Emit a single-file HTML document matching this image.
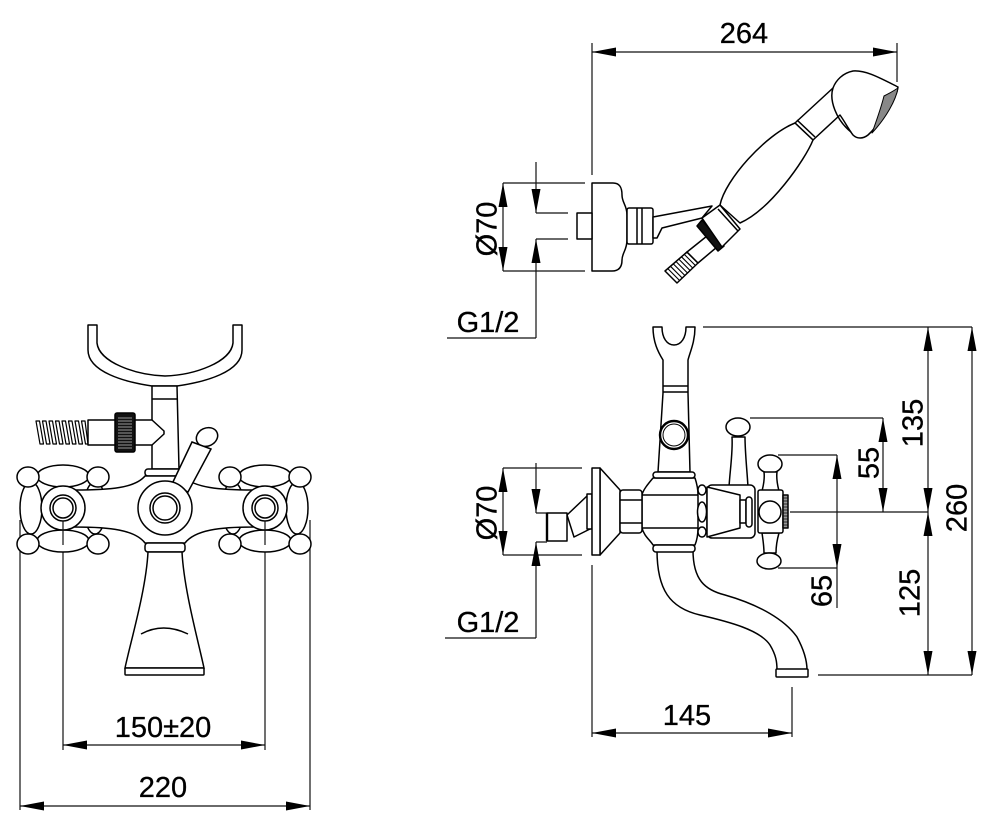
<!DOCTYPE html>
<html><head><meta charset="utf-8"><style>
html,body{margin:0;padding:0;background:#fff;}
svg{display:block;}
text{font-family:"Liberation Sans",Arial,sans-serif;font-size:29px;fill:#000;stroke:#000;stroke-width:0.3;}
</style></head><body>
<svg width="1000" height="826" viewBox="0 0 1000 826" xmlns="http://www.w3.org/2000/svg">
<rect width="1000" height="826" fill="#fff"/>
<!-- dimension lines -->
<g fill="none" stroke="#111" stroke-width="1.2">
<path d="M592,52 H897 M592,43 V175 M897,43 V82"/>
<path d="M503,183 V271 M503,183 H585 M503,271 H585"/>
<path d="M536,162 V213 M536,239 V338 M536,213 H568 M536,239 H568 M447,338 H536"/>
<path d="M503,468 V555 M503,468 H582 M503,555 H582"/>
<path d="M536,463 V513 M536,542 V638 M536,513 H547 M536,542 H547 M445,638 H536"/>
<path d="M703,327 H972 M750,418 H883 M778,455 H837 M790,512 H928 M778,568 H837 M818,675 H972"/>
<path d="M928,327 V675 M972,327 V675 M883,418 V512 M837,455 V608"/>
<path d="M592,565 V737 M792,687 V737 M592,733 H792"/>
<path d="M20,520 V810 M310,520 V810 M20,806 H310"/>
<path d="M63,521 V750 M265,521 V750 M63,745 H265"/>
</g>
<!-- arrows -->
<g fill="#000" stroke="none">
<polygon points="592,52 616,47.5 616,56.5"/><polygon points="897,52 873,47.5 873,56.5"/>
<polygon points="63,745 87,740.5 87,749.5"/><polygon points="265,745 241,740.5 241,749.5"/>
<polygon points="20,806 44,801.5 44,810.5"/><polygon points="310,806 286,801.5 286,810.5"/>
<polygon points="592,733 616,728.5 616,737.5"/><polygon points="792,733 768,728.5 768,737.5"/>
<polygon points="503,183 498.5,207 507.5,207"/><polygon points="503,271 498.5,247 507.5,247"/>
<polygon points="536,213 531.5,189 540.5,189"/><polygon points="536,239 531.5,263 540.5,263"/>
<polygon points="503,468 498.5,492 507.5,492"/><polygon points="503,555 498.5,531 507.5,531"/>
<polygon points="536,513 531.5,489 540.5,489"/><polygon points="536,542 531.5,566 540.5,566"/>
<polygon points="928,327 923.5,351 932.5,351"/><polygon points="928,512 923.5,488 932.5,488"/>
<polygon points="928,512 923.5,536 932.5,536"/><polygon points="928,675 923.5,651 932.5,651"/>
<polygon points="972,327 967.5,351 976.5,351"/><polygon points="972,675 967.5,651 976.5,651"/>
<polygon points="883,418 878.5,442 887.5,442"/><polygon points="883,512 878.5,488 887.5,488"/>
<polygon points="837,455 832.5,479 841.5,479"/><polygon points="837,568 832.5,544 841.5,544"/>
</g>

<!-- ===== LEFT FRONT VIEW ===== -->
<g fill="#fff" stroke="#000" stroke-width="1.5" stroke-linejoin="round">
<path d="M88,325 H97 V343 C99,362 135,375 165,376 C195,375 231,362 233,343 V325 H242 V350 C242,372 205,382 177,386 L152,386 C125,382 88,372 88,350 Z"/>
<path d="M152,386 L177,386 L179,469 L152,469 Z"/>
<path d="M152,399 H177" fill="none"/>
<!-- hose -->
<g fill="none" stroke-width="1.2">
<path d="M36,421 L40,444 L43.5,444 L39.5,421 Z M42.5,421 L46.5,444 L50,444 L46,421 Z M49,421 L53,444 L56.5,444 L52.5,421 Z M55.5,421 L59.5,444 L63,444 L59,421 Z M62,421 L66,444 L69.5,444 L65.5,421 Z M68.5,421 L72.5,444 L76,444 L72,421 Z M75,421 L79,444 L82.5,444 L78.5,421 Z M81.5,421 L85.5,444 L88,444 L85,421 Z"/>
</g>
<path d="M88,420 L152,420 L164,431 L164,434 L152,445 L88,445 Z"/>
<rect x="115" y="413" width="20" height="39" rx="2" fill="#111"/>
<path d="M118,418 H132 M118,421 H132 M118,424 H132 M118,427 H132 M118,430 H132 M118,433 H132 M118,436 H132 M118,439 H132 M118,442 H132 M118,445 H132 M118,448 H132" stroke="#999" stroke-width="1" fill="none"/>
<rect x="145" y="469" width="37" height="7" rx="3"/>
</g>

<!-- cross handles -->
<g fill="#fff" stroke="#000" stroke-width="1.5">
<g transform="translate(63,508)">
<ellipse cx="0" cy="-32" rx="26" ry="11"/><ellipse cx="0" cy="33" rx="26" ry="11"/>
<ellipse cx="-32" cy="0" rx="11" ry="26"/><ellipse cx="32" cy="0" rx="11" ry="26"/>
<ellipse cx="-35" cy="-31" rx="11" ry="10"/><ellipse cx="35" cy="-31" rx="11" ry="10"/>
<ellipse cx="-35" cy="36" rx="11" ry="10"/><ellipse cx="35" cy="36" rx="11" ry="10"/>
</g>
<g transform="translate(265,508)">
<ellipse cx="0" cy="-32" rx="26" ry="11"/><ellipse cx="0" cy="33" rx="26" ry="11"/>
<ellipse cx="-32" cy="0" rx="11" ry="26"/><ellipse cx="32" cy="0" rx="11" ry="26"/>
<ellipse cx="-35" cy="-31" rx="11" ry="10"/><ellipse cx="35" cy="-31" rx="11" ry="10"/>
<ellipse cx="-35" cy="36" rx="11" ry="10"/><ellipse cx="35" cy="36" rx="11" ry="10"/>
</g>
<!-- bar -->
<path d="M75,490 C110,490 135,488 145,476 L182,476 C195,488 220,490 253,490 L253,527 C220,527 195,530 185,543 L145,543 C135,530 110,527 75,527 Z"/>
<!-- lever -->
<ellipse cx="207" cy="437" rx="11" ry="9" transform="rotate(-25 207 437)"/>
<polygon points="172,484 192,442 211,449 188,492"/>
<circle cx="165" cy="508" r="27"/><circle cx="165" cy="508" r="15"/><circle cx="165" cy="508" r="12"/>
<circle cx="63" cy="508" r="22"/><circle cx="63" cy="508" r="13"/><circle cx="63" cy="508" r="10"/>
<circle cx="265" cy="508" r="22"/><circle cx="265" cy="508" r="13"/><circle cx="265" cy="508" r="10"/>
<!-- lower spout -->
<rect x="145" y="543" width="40" height="9" rx="3"/>
<path d="M148,552 C146,590 131,640 125,668 L204,668 C198,640 184,590 182,552 Z"/>
<rect x="125" y="668" width="79" height="7" rx="1"/>
<path d="M141,634 Q163,622 188,634" fill="none"/>
</g>
<path d="M63,521 V545 M265,521 V545" stroke="#111" stroke-width="1.2"/>

<!-- ===== UPPER RIGHT: HAND SHOWER ===== -->
<g fill="#fff" stroke="#000" stroke-width="1.5" stroke-linejoin="round">
<path d="M592,183 L613,183 C620,183 622,188 622,195 C622,203 627,205 627,215 L627,240 C627,250 622,253 622,260 C622,268 618,271 612,271 L592,271 Z"/>
<rect x="577" y="213" width="15" height="26"/>
<rect x="627" y="208" width="26" height="36" rx="2"/>
<path d="M637,208 V244 M642,208 V244" fill="none"/>
<!-- hose -->
<path d="M687,252 L698,263 L677,283 L665,271 Z"/>
<path d="M684.3,254.4 L695.4,265.5 M681.5,256.8 L692.7,268 M678.8,259.1 L690.1,270.5 M676,261.5 L687.5,273 M673.3,263.9 L684.9,275.5 M670.5,266.3 L682.2,278 M667.8,268.6 L679.6,280.5" fill="none" stroke-width="1.1"/>
<polygon points="707,236 717,247 698,263 687,252"/>
<polygon points="697,226 702,220 724,246 718,251" fill="#111"/>
<!-- arm -->
<path d="M653,217 L712,206 L702,218 L662,228 L657,238 L653,238 Z"/>
<!-- handle -->
<path d="M795,123 L833,88 C836,80 843,73 853,71 C866,70 880,78 898,87 C897,95 893,100 889,106 C883,116 876,128 868,135 C863,139 857,139 853,135 C849,130 845,122 840,115 L813,140 Z"/>
<path d="M833,88 C829,100 836,120 851,132" fill="none"/>
<path d="M884,96 C890,93 895,90 898,88 C896,100 886,118 872,133 C876,122 881,108 884,96 Z" fill="#888" stroke-width="1"/>
<path d="M720,205 C725,180 765,135 795,123 L813,140 C805,160 770,210 740,223 Z"/>
<path d="M797,120 L815,137" fill="none"/>
<polygon points="702,218 720,205 740,229 722,247"/>
<path d="M718,209 L738,231" fill="none"/>
</g>

<!-- ===== LOWER RIGHT: SIDE VIEW ===== -->
<g fill="#fff" stroke="#000" stroke-width="1.5" stroke-linejoin="round">
<!-- holder column -->
<path d="M653,327 H662 C662,338 667,345 674,345 C681,345 686,338 686,327 H695 C695,342 690,352 688,360 L688,393 L690,472 L658,472 L663,393 L663,360 C658,352 653,342 653,327 Z"/>
<path d="M663,386 H688 M663,392 H688" fill="none"/>
<circle cx="674" cy="435" r="14" stroke-width="2.4"/>
<circle cx="674" cy="435" r="11" fill="none" stroke-width="1"/>
<!-- spout -->
<path d="M657,550 C657,590 670,608 700,615 C730,622 760,630 770,645 C776,655 777,662 777,670 L807,670 C807,660 804,650 797,637 C785,620 760,605 725,595 C705,590 693,580 693,550 Z"/>
<rect x="776" y="669" width="32" height="8" rx="1"/>
<!-- body -->
<path d="M653,478 C648,484 643,490 642,495 L642,528 C644,536 650,540 653,545 L695,545 C697,540 698,536 698,528 L698,495 C698,490 697,484 695,478 Z"/>
<path d="M642,495 H698 M642,528 H698" fill="none"/>
<rect x="653" y="472" width="42" height="6" rx="3"/>
<rect x="653" y="545" width="42" height="7" rx="3"/>
<!-- flange & fittings -->
<path d="M567,515 L587,496 L592,496 L592,528 L574,537 Z"/>
<rect x="547" y="513" width="20" height="28"/>
<path d="M547,513 V541" fill="none" stroke-width="2.4"/>
<rect x="587" y="494" width="5" height="35"/>
<path d="M600,468 L620,490 L620,533 L600,555 Z"/>
<rect x="592" y="468" width="8" height="87"/>
<rect x="620" y="490" width="22" height="43" rx="3"/>
<path d="M620,500 H642 M620,523 H642" fill="none"/>
<!-- lever -->
<ellipse cx="738" cy="427" rx="12" ry="9"/>
<path d="M732,437 C733,452 730,470 729,487 L748,487 C747,470 745,452 745,437 Z"/>
<rect x="707" y="485" width="48" height="53" rx="5"/>
<polygon points="707,487 740,495 740,528 707,537"/>
<ellipse cx="702" cy="490" rx="4" ry="5"/>
<ellipse cx="702" cy="512" rx="4.5" ry="10"/>
<ellipse cx="702" cy="532" rx="4" ry="5"/>
<rect x="740" y="500" width="6" height="23"/>
<rect x="746" y="497" width="6" height="30" rx="3"/>
<!-- cross handle side -->
<ellipse cx="770" cy="464" rx="12" ry="9"/>
<path d="M764,472 C765,480 763,487 762,491 L779,491 C778,487 776,480 777,472 Z"/>
<path d="M762,533 C763,540 764,546 764,553 L776,553 C776,546 777,540 779,533 Z"/>
<ellipse cx="769" cy="561" rx="12" ry="8"/>
<rect x="758" y="490" width="25" height="43" rx="2"/>
<circle cx="770" cy="512" r="11"/>
<rect x="783" y="495" width="5" height="33" fill="#999"/>
<path d="M783,498 H788 M783,501 H788 M783,504 H788 M783,507 H788 M783,510 H788 M783,513 H788 M783,516 H788 M783,519 H788 M783,522 H788 M783,525 H788" fill="none" stroke-width="0.8"/>
</g>

<!-- texts -->
<text x="744" y="43" text-anchor="middle">264</text>
<text x="163" y="737" text-anchor="middle">150±20</text>
<text x="163" y="797" text-anchor="middle">220</text>
<text x="687" y="725" text-anchor="middle">145</text>
<text x="488" y="332" text-anchor="middle">G1/2</text>
<text x="488" y="632" text-anchor="middle">G1/2</text>
<g transform="translate(486,229) rotate(-90)"><text x="0" y="10.5" text-anchor="middle">Ø70</text></g>
<g transform="translate(486,513) rotate(-90)"><text x="0" y="10.5" text-anchor="middle">Ø70</text></g>
<g transform="translate(912,423) rotate(-90)"><text x="0" y="10.5" text-anchor="middle">135</text></g>
<g transform="translate(956,508) rotate(-90)"><text x="0" y="10.5" text-anchor="middle">260</text></g>
<g transform="translate(909,593) rotate(-90)"><text x="0" y="10.5" text-anchor="middle">125</text></g>
<g transform="translate(868,463) rotate(-90)"><text x="0" y="10.5" text-anchor="middle">55</text></g>
<g transform="translate(821,591) rotate(-90)"><text x="0" y="10.5" text-anchor="middle">65</text></g>
</svg>
</body></html>
